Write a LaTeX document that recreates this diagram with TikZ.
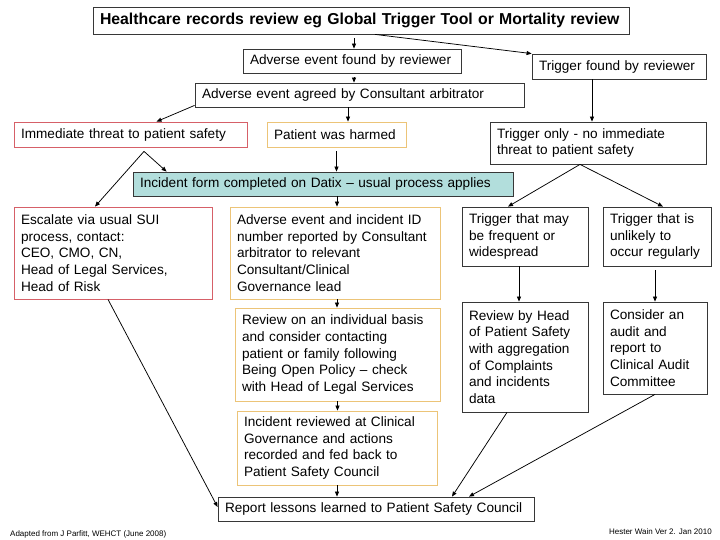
\documentclass[tikz,border=0pt]{standalone}
\usepackage{fontspec}
\setmainfont{Liberation Sans}
\usetikzlibrary{arrows.meta,calc}

\definecolor{boxline}{RGB}{55,55,55}
\definecolor{threatline}{RGB}{214,96,104}
\definecolor{harmline}{RGB}{236,196,120}
\definecolor{datixfill}{RGB}{178,222,220}

\begin{document}
\begin{tikzpicture}[x=1pt, y=-1pt,
  box/.style={draw=boxline, line width=0.8pt, fill=white, inner sep=0pt, align=left, font=\fontsize{13.6}{16.7}\selectfont,
    execute at begin node={\hyphenpenalty=10000\exhyphenpenalty=10000}},
  threat/.style={box, draw=threatline},
  harm/.style={box, draw=harmline},
  datix/.style={box, fill=datixfill},
  arr/.style={-{Triangle[length=5pt, width=4pt]}, line width=0.75pt},
  gap/.style={shorten <=4pt},
  note/.style={font=\fontsize{8}{9.5}\selectfont, inner sep=0pt},
]

% Page
\fill[white] (0,0) rectangle (720,540);
\useasboundingbox (0,0) rectangle (720,540);

% Records review
\node[box, font=\fontsize{15.8}{18}\selectfont\bfseries, minimum width=536pt, minimum height=27pt, text width=522pt] (review) at (361,20.5) {Healthcare records review eg Global Trigger Tool or Mortality review};

% Adverse event route
\node[box, minimum width=218pt, minimum height=24pt, text width=204pt] (found) at (352,61) {Adverse event found by reviewer};
\node[box, minimum width=329pt, minimum height=24pt, text width=315pt] (agreed) at (359.5,95) {Adverse event agreed by Consultant arbitrator};
\node[threat, minimum width=233pt, minimum height=25pt, text width=219pt] (threat) at (130.5,134.5) {Immediate threat to patient safety};
\node[harm, minimum width=139pt, minimum height=25pt, text width=125pt] (harmed) at (336.5,134.5) {Patient was harmed};
\node[datix, minimum width=380pt, minimum height=24pt, text width=366pt] (datix) at (323,184) {Incident form completed on Datix – usual process applies};
\node[threat, minimum width=198pt, minimum height=92pt, text width=184pt] (escalate) at (113,253) {Escalate via usual SUI\\process, contact:\\CEO, CMO, CN,\\Head of Legal Services,\\Head of Risk};
\node[harm, minimum width=210pt, minimum height=92pt, text width=196pt] (reported) at (335,253) {Adverse event and incident ID\\number reported by Consultant\\arbitrator to relevant\\Consultant/Clinical\\Governance lead};
\node[harm, minimum width=205pt, minimum height=93pt, text width=191pt] (openness) at (337.5,354.5) {Review on an individual basis\\and consider contacting\\patient or family following\\Being Open Policy – check\\with Head of Legal Services};
\node[harm, minimum width=200pt, minimum height=74pt, text width=186pt] (council) at (337,448) {Incident reviewed at Clinical\\Governance and actions\\recorded and fed back to\\Patient Safety Council};
\node[box, minimum width=316pt, minimum height=24pt, text width=302pt] (lessons) at (376,509) {Report lessons learned to Patient Safety Council};

% Trigger route
\node[box, minimum width=174pt, minimum height=25pt, text width=160pt] (trigger) at (619,66.5) {Trigger found by reviewer};
\node[box, minimum width=216pt, minimum height=42pt, text width=202pt] (triggeronly) at (598,143) {Trigger only - no immediate\\threat to patient safety};
\node[box, minimum width=126pt, minimum height=59pt, text width=112pt] (frequent) at (525,236.5) {Trigger that may\\be frequent or\\widespread};
\node[box, minimum width=108pt, minimum height=59pt, text width=94pt] (rare) at (657,236.5) {Trigger that is\\unlikely to\\occur regularly};
\node[box, minimum width=126pt, minimum height=110pt, text width=112pt] (headps) at (525,357) {Review by Head\\of Patient Safety\\with aggregation\\of Complaints\\and incidents\\data};
\node[box, minimum width=104pt, minimum height=92pt, text width=90pt] (audit) at (655,348) {Consider an\\audit and\\report to\\Clinical Audit\\Committee};

% Footers
\node[note, anchor=west] (source) at (10,534) {Adapted from J Parfitt, WEHCT (June 2008)};
\node[note, anchor=east] (version) at (712,532) {Hester Wain Ver 2. Jan 2010};

% Arrows: records review
\draw[arr, gap] ([xshift=2pt]found.north |- review.south) -- ([xshift=2pt]found.north);
\draw[arr] ([xshift=14pt]review.south) -- (trigger.north west);

% Arrows: adverse event route
\draw[arr, gap] ([xshift=2pt]found.south) -- ([xshift=2pt]found.south |- agreed.north);
\draw[arr] ([yshift=2pt]agreed.south west) -- ([xshift=26pt]threat.north);
\draw[arr] ([xshift=11.5pt]harmed.north |- agreed.south) -- ([xshift=11.5pt]harmed.north);
\draw[arr, gap] (harmed.south) -- (harmed.south |- datix.north);
\coordinate (split) at ($(threat.south)+(13.5,4)$);
\draw[arr] (split) -- ([xshift=34pt]datix.north west);
\draw[arr] (split) -- ([xshift=-18pt]escalate.north);
\draw[arr] ([xshift=2pt]reported.north |- datix.south) -- ([xshift=2pt]reported.north);
\draw[arr] ([xshift=2pt]reported.south) -- ([xshift=2pt]reported.south |- openness.north);
\draw[arr] (openness.south) -- (openness.south |- council.north);
\draw[arr] (council.south) -- (council.south |- lessons.north);
\draw[arr] ([xshift=-5pt]escalate.south) -- ([yshift=2pt]lessons.west);

% Arrows: trigger route
\draw[arr] ([xshift=-27pt]trigger.south) -- ([xshift=-27pt]trigger.south |- triggeronly.north);
\draw[arr] ([xshift=-18pt]triggeronly.south) -- ([xshift=-17pt]frequent.north);
\draw[arr] ([xshift=-18pt]triggeronly.south) -- ([xshift=6pt]rare.north);
\draw[arr] ([xshift=-6pt]frequent.south) -- ([xshift=-6pt]headps.north);
\draw[arr, gap] (audit.north |- rare.south) -- (audit.north);
\draw[arr] ([xshift=-18pt]headps.south) -- ([xshift=76pt]lessons.north);
\draw[arr] (audit.south) -- ([xshift=93pt]lessons.north);

\end{tikzpicture}
\end{document}
